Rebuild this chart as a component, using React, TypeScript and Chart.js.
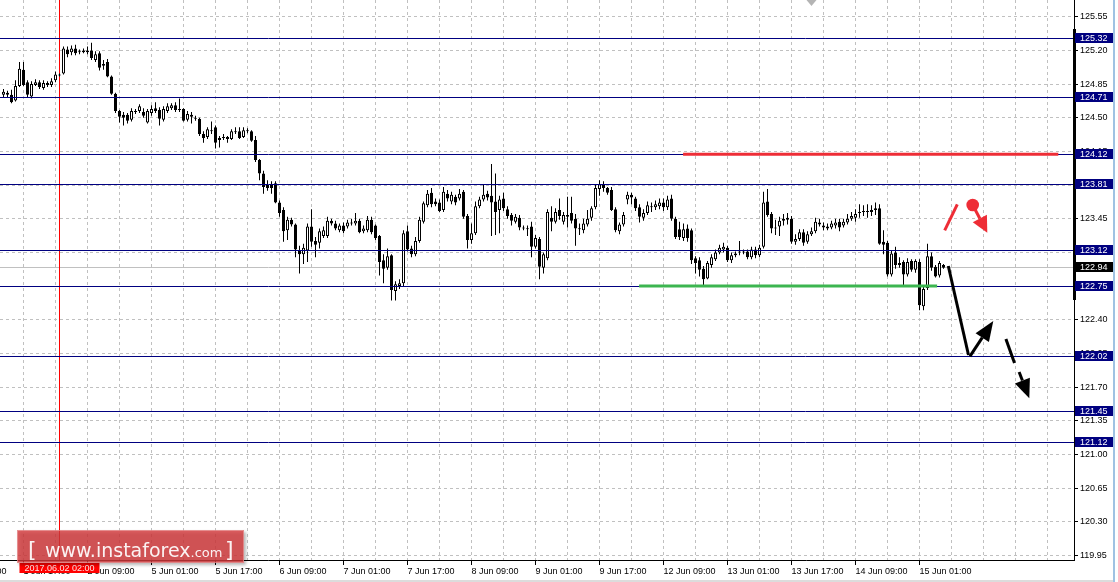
import React, { useEffect, useRef } from 'react';
import { Chart, registerables } from 'chart.js';

Chart.register(...registerables);

// ---- Candle data (H1), index 0 = 1 Jun 12:00 ----
const openP = [
  124.74, 124.76, 124.74, 124.68, 124.83, 125.00, 124.87, 124.72, 124.84, 124.87,
  124.81, 124.86, 124.84, 124.89, 124.95, 124.96, 125.21, 125.18, 125.22, 125.19,
  125.18, 125.20, 125.20, 125.10, 125.17, 125.04, 125.08, 124.93, 124.75, 124.57,
  124.53, 124.53, 124.48, 124.57, 124.57, 124.56, 124.45, 124.55, 124.60, 124.58,
  124.48, 124.57, 124.60, 124.63, 124.59, 124.59, 124.48, 124.53, 124.49, 124.49,
  124.33, 124.30, 124.37, 124.40, 124.27, 124.29, 124.30, 124.28, 124.36, 124.36,
  124.30, 124.37, 124.36, 124.27, 124.06, 123.92, 123.80, 123.81, 123.82, 123.62,
  123.54, 123.33, 123.44, 123.39, 123.12, 123.08, 123.12, 123.37, 123.22, 123.20,
  123.27, 123.27, 123.43, 123.40, 123.33, 123.38, 123.37, 123.40, 123.40, 123.43,
  123.32, 123.33, 123.44, 123.38, 123.27, 123.02, 122.94, 123.07, 122.70, 122.75,
  122.78, 123.32, 123.14, 123.08, 123.22, 123.42, 123.59, 123.72, 123.63, 123.62,
  123.54, 123.71, 123.63, 123.68, 123.66, 123.73, 123.48, 123.23, 123.30, 123.58,
  123.65, 123.71, 123.69, 123.63, 123.54, 123.66, 123.55, 123.49, 123.42, 123.46,
  123.36, 123.35, 123.37, 123.16, 123.24, 122.94, 123.04, 123.46, 123.42, 123.54,
  123.42, 123.49, 123.51, 123.45, 123.35, 123.33, 123.39, 123.46, 123.57, 123.76,
  123.81, 123.77, 123.75, 123.55, 123.32, 123.39, 123.65, 123.70, 123.66, 123.57,
  123.46, 123.51, 123.58, 123.57, 123.58, 123.62, 123.57, 123.66, 123.45, 123.34,
  123.25, 123.35, 123.33, 123.04, 123.02, 122.93, 122.83, 122.97, 123.03, 123.10,
  123.13, 123.15, 123.02, 123.07, 123.10, 123.11, 123.11, 123.05, 123.13, 123.07,
  123.16, 123.63, 123.50, 123.36, 123.37, 123.43, 123.44, 123.45, 123.21, 123.24,
  123.31, 123.21, 123.29, 123.32, 123.41, 123.38, 123.37, 123.36, 123.38, 123.42,
  123.38, 123.41, 123.45, 123.46, 123.51, 123.52, 123.53, 123.54, 123.54, 123.56,
  123.21, 123.20, 122.87, 123.10, 122.97, 123.00, 122.87, 123.01, 122.92, 123.00,
  122.54, 122.73, 123.06, 122.95, 122.86, 122.97,
];
const highP = [
  124.80, 124.78, 124.79, 124.89, 125.08, 125.08, 124.89, 124.88, 124.90, 124.89,
  124.89, 124.88, 124.91, 124.98, 124.96, 125.24, 125.24, 125.25, 125.26, 125.21,
  125.22, 125.24, 125.28, 125.19, 125.19, 125.10, 125.11, 124.94, 124.76, 124.58,
  124.56, 124.55, 124.60, 124.59, 124.64, 124.60, 124.59, 124.63, 124.66, 124.61,
  124.62, 124.65, 124.65, 124.66, 124.70, 124.60, 124.57, 124.56, 124.52, 124.50,
  124.36, 124.40, 124.46, 124.42, 124.31, 124.33, 124.31, 124.38, 124.40, 124.40,
  124.40, 124.39, 124.37, 124.31, 124.07, 123.95, 123.85, 123.84, 123.84, 123.64,
  123.57, 123.47, 123.46, 123.40, 123.17, 123.19, 123.40, 123.55, 123.26, 123.35,
  123.37, 123.47, 123.45, 123.43, 123.40, 123.41, 123.44, 123.45, 123.51, 123.45,
  123.38, 123.48, 123.47, 123.39, 123.28, 123.08, 123.14, 123.08, 122.80, 122.82,
  123.33, 123.38, 123.17, 123.26, 123.47, 123.63, 123.75, 123.77, 123.66, 123.65,
  123.78, 123.75, 123.73, 123.70, 123.76, 123.75, 123.50, 123.40, 123.63, 123.68,
  123.80, 123.74, 124.02, 123.92, 123.69, 123.72, 123.58, 123.51, 123.50, 123.49,
  123.38, 123.38, 123.42, 123.28, 123.26, 123.10, 123.55, 123.58, 123.56, 123.66,
  123.52, 123.68, 123.68, 123.50, 123.40, 123.45, 123.54, 123.58, 123.80, 123.85,
  123.84, 123.78, 123.78, 123.57, 123.41, 123.52, 123.73, 123.72, 123.68, 123.60,
  123.55, 123.63, 123.62, 123.64, 123.66, 123.66, 123.69, 123.70, 123.47, 123.42,
  123.40, 123.39, 123.35, 123.06, 123.05, 122.96, 123.01, 123.08, 123.13, 123.18,
  123.20, 123.17, 123.10, 123.11, 123.22, 123.13, 123.13, 123.16, 123.16, 123.18,
  123.73, 123.76, 123.52, 123.44, 123.47, 123.50, 123.51, 123.48, 123.29, 123.34,
  123.34, 123.32, 123.36, 123.46, 123.45, 123.41, 123.40, 123.43, 123.45, 123.45,
  123.45, 123.50, 123.52, 123.55, 123.60, 123.59, 123.60, 123.59, 123.62, 123.60,
  123.33, 123.22, 123.12, 123.16, 123.05, 123.02, 123.04, 123.03, 123.03, 123.03,
  122.75, 123.19, 123.10, 122.97, 123.01, 122.98,
];
const lowP = [
  124.71, 124.71, 124.65, 124.67, 124.82, 124.83, 124.71, 124.70, 124.83, 124.80,
  124.79, 124.82, 124.82, 124.87, 124.93, 124.95, 125.13, 125.15, 125.15, 125.16,
  125.17, 125.16, 125.10, 125.08, 124.99, 125.00, 124.92, 124.74, 124.55, 124.45,
  124.42, 124.44, 124.46, 124.54, 124.55, 124.50, 124.44, 124.52, 124.55, 124.42,
  124.46, 124.55, 124.58, 124.56, 124.56, 124.46, 124.46, 124.44, 124.47, 124.31,
  124.24, 124.28, 124.33, 124.18, 124.19, 124.27, 124.24, 124.27, 124.33, 124.28,
  124.29, 124.34, 124.25, 124.04, 123.85, 123.71, 123.74, 123.71, 123.61, 123.47,
  123.21, 123.23, 123.37, 123.05, 122.88, 122.98, 123.00, 123.16, 123.05, 123.14,
  123.25, 123.25, 123.38, 123.33, 123.31, 123.30, 123.35, 123.38, 123.38, 123.30,
  123.30, 123.31, 123.29, 123.23, 122.86, 122.78, 122.92, 122.60, 122.60, 122.72,
  122.75, 123.11, 123.05, 123.06, 123.20, 123.40, 123.57, 123.57, 123.58, 123.52,
  123.52, 123.63, 123.60, 123.59, 123.64, 123.45, 123.14, 123.19, 123.28, 123.56,
  123.63, 123.64, 123.27, 123.28, 123.30, 123.53, 123.45, 123.38, 123.40, 123.33,
  123.33, 123.27, 123.05, 123.14, 122.82, 122.88, 123.02, 123.32, 123.40, 123.44,
  123.39, 123.36, 123.40, 123.17, 123.28, 123.30, 123.37, 123.43, 123.55, 123.69,
  123.73, 123.70, 123.53, 123.31, 123.29, 123.37, 123.60, 123.60, 123.53, 123.41,
  123.43, 123.49, 123.52, 123.54, 123.55, 123.53, 123.54, 123.43, 123.24, 123.23,
  123.22, 123.21, 122.98, 122.88, 122.85, 122.76, 122.82, 122.94, 123.01, 123.08,
  123.10, 123.00, 122.99, 123.05, 123.07, 123.08, 123.03, 123.03, 123.04, 123.05,
  123.14, 123.47, 123.30, 123.28, 123.27, 123.38, 123.39, 123.19, 123.18, 123.22,
  123.17, 123.19, 123.27, 123.30, 123.37, 123.33, 123.33, 123.34, 123.35, 123.32,
  123.36, 123.39, 123.43, 123.42, 123.46, 123.48, 123.46, 123.48, 123.49, 123.18,
  123.08, 122.85, 122.85, 122.93, 122.94, 122.75, 122.85, 122.90, 122.89, 122.50,
  122.50, 122.71, 122.91, 122.84, 122.84, 122.93,
];
const closeP = [
  124.77, 124.74, 124.66, 124.83, 125.01, 124.84, 124.74, 124.85, 124.87, 124.82,
  124.86, 124.84, 124.88, 124.95, 124.94, 125.22, 125.16, 125.22, 125.17, 125.18,
  125.20, 125.18, 125.12, 125.16, 125.02, 125.06, 124.93, 124.75, 124.57, 124.51,
  124.50, 124.47, 124.57, 124.56, 124.62, 124.52, 124.57, 124.59, 124.57, 124.49,
  124.59, 124.62, 124.63, 124.58, 124.58, 124.47, 124.54, 124.51, 124.50, 124.33,
  124.29, 124.38, 124.36, 124.24, 124.29, 124.30, 124.28, 124.36, 124.35, 124.29,
  124.37, 124.36, 124.26, 124.06, 123.92, 123.78, 123.77, 123.77, 123.62, 123.51,
  123.32, 123.44, 123.39, 123.13, 123.08, 123.15, 123.37, 123.21, 123.18, 123.32,
  123.33, 123.43, 123.40, 123.35, 123.38, 123.32, 123.41, 123.41, 123.43, 123.31,
  123.35, 123.44, 123.31, 123.25, 123.00, 122.93, 123.06, 122.71, 122.77, 122.78,
  123.30, 123.13, 123.08, 123.22, 123.44, 123.61, 123.71, 123.60, 123.60, 123.53,
  123.73, 123.66, 123.70, 123.62, 123.71, 123.47, 123.23, 123.30, 123.58, 123.65,
  123.70, 123.67, 123.62, 123.52, 123.65, 123.56, 123.48, 123.43, 123.47, 123.36,
  123.35, 123.34, 123.16, 123.25, 122.95, 123.08, 123.52, 123.42, 123.52, 123.48,
  123.49, 123.47, 123.43, 123.35, 123.34, 123.40, 123.45, 123.56, 123.77, 123.81,
  123.77, 123.72, 123.54, 123.33, 123.39, 123.49, 123.70, 123.67, 123.56, 123.47,
  123.51, 123.59, 123.57, 123.60, 123.62, 123.57, 123.65, 123.45, 123.26, 123.26,
  123.34, 123.25, 123.02, 122.99, 122.92, 122.82, 122.99, 123.05, 123.10, 123.15,
  123.16, 123.02, 123.07, 123.09, 123.11, 123.10, 123.05, 123.13, 123.07, 123.15,
  123.62, 123.49, 123.35, 123.35, 123.43, 123.45, 123.46, 123.21, 123.24, 123.31,
  123.20, 123.29, 123.32, 123.42, 123.39, 123.36, 123.35, 123.40, 123.41, 123.36,
  123.42, 123.45, 123.48, 123.50, 123.52, 123.53, 123.52, 123.52, 123.56, 123.19,
  123.18, 122.87, 123.09, 122.97, 122.99, 122.87, 123.00, 122.92, 123.01, 122.55,
  122.72, 123.06, 122.94, 122.85, 122.99, 122.94,
];

// ---- Levels & axis text ----
const priceLevels = [125.32, 124.71, 124.12, 123.81, 123.12, 122.75, 122.02, 121.45, 121.12];
const currentPrice = 122.94;
const yTickValues = [119.95, 120.30, 120.65, 121.00, 121.35, 121.70, 122.05, 122.40, 122.75, 123.10, 123.45, 123.80, 124.15, 124.50, 124.85, 125.20, 125.55];
const xGridIdx = [-11, 5, 13, 21, 29, 37, 45, 53, 61, 69, 77, 85, 93, 101, 109, 117, 125, 133, 141, 149, 157, 165, 173, 181, 189, 197, 205, 213, 221, 229, 237, 245, 253, 261];
const xLabelIdx = [-11, 5, 21, 37, 53, 69, 85, 101, 117, 133, 149, 165, 181, 197, 213, 229];
const xLabelText = ['1 Jun 01:00', '1 Jun 17:00', '2 Jun 09:00', '5 Jun 01:00', '5 Jun 17:00', '6 Jun 09:00', '7 Jun 01:00', '7 Jun 17:00', '8 Jun 09:00', '9 Jun 01:00', '9 Jun 17:00', '12 Jun 09:00', '13 Jun 01:00', '13 Jun 17:00', '14 Jun 09:00', '15 Jun 01:00'];
const crosshairIdx = 14;
const crosshairText = '2017.06.02 02:00';
const axisRange = [122.61, 125.42];
const xRange = [-0.875, 267.625];
const yRange = [119.903, 125.724];

// ---- Drawn objects (index, price) ----
const resistanceSeg = [[169.9, 124.12], [263.7, 124.12]];
const supportSeg = [[158.9, 122.75], [233.4, 122.75]];
const redSlash = [[235.3, 123.33], [238.45, 123.60]];
const redDot = [242.3, 123.593];
const redArrowTip = [245.95, 123.305];
const blackPath = [[236.2, 122.959], [241.25, 122.034]];
const blackUpArrow = [[241.6, 122.02], [247.45, 122.387]];
const dashArrowSeg1 = [[250.6, 122.20], [252.75, 121.951]];
const dashArrowSeg2 = [[253.9, 121.857], [256.45, 121.584]];
const topMarker = [202, 125.724];

const FONT = '"Liberation Sans", Arial, sans-serif';

function drawArrow(ctx: CanvasRenderingContext2D, x1: number, y1: number, x2: number, y2: number, headLen: number, headW: number) {
  const ang = Math.atan2(y2 - y1, x2 - x1);
  const bx = x2 - headLen * Math.cos(ang);
  const by = y2 - headLen * Math.sin(ang);
  ctx.beginPath();
  ctx.moveTo(x1, y1);
  ctx.lineTo(bx, by);
  ctx.stroke();
  ctx.beginPath();
  ctx.moveTo(x2, y2);
  ctx.lineTo(bx + headW * Math.sin(ang), by - headW * Math.cos(ang));
  ctx.lineTo(bx - headW * Math.sin(ang), by + headW * Math.cos(ang));
  ctx.closePath();
  ctx.fill();
}

const overlayPlugin = {
  id: 'mtOverlay',
  beforeDatasetsDraw(chart: any) {
    const { ctx, chartArea: ca, scales } = chart;
    const x = scales.x, y = scales.y;
    ctx.save();
    const py = Math.floor(y.getPixelForValue(currentPrice)) + 0.5;
    ctx.strokeStyle = '#c0c0c0';
    ctx.lineWidth = 1;
    ctx.beginPath(); ctx.moveTo(ca.left, py); ctx.lineTo(ca.right, py); ctx.stroke();
    const cx = Math.floor(x.getPixelForValue(crosshairIdx)) + 0.5;
    ctx.strokeStyle = '#ff0000';
    ctx.beginPath(); ctx.moveTo(cx, ca.top); ctx.lineTo(cx, ca.bottom); ctx.stroke();
    ctx.restore();
  },
  afterDatasetsDraw(chart: any) {
    const { ctx, chartArea: ca, scales } = chart;
    const x = scales.x, y = scales.y;
    const P = (p: number[]) => [x.getPixelForValue(p[0]), y.getPixelForValue(p[1])];
    ctx.save();
    ctx.beginPath(); ctx.rect(ca.left, ca.top, ca.right - ca.left, ca.bottom - ca.top); ctx.clip();
    ctx.strokeStyle = '#000080';
    ctx.lineWidth = 1;
    priceLevels.forEach((lv) => {
      const py = Math.floor(y.getPixelForValue(lv)) + 0.5;
      ctx.beginPath(); ctx.moveTo(ca.left, py); ctx.lineTo(ca.right, py); ctx.stroke();
    });
    ctx.lineWidth = 3;
    ctx.lineCap = 'butt';
    let a = P(resistanceSeg[0]), b = P(resistanceSeg[1]);
    ctx.strokeStyle = '#ee2d36';
    ctx.beginPath(); ctx.moveTo(a[0], a[1]); ctx.lineTo(b[0], b[1]); ctx.stroke();
    a = P(supportSeg[0]); b = P(supportSeg[1]);
    ctx.strokeStyle = '#3cb550';
    ctx.beginPath(); ctx.moveTo(a[0], a[1]); ctx.lineTo(b[0], b[1]); ctx.stroke();
    ctx.strokeStyle = '#ee2d36';
    ctx.fillStyle = '#ee2d36';
    ctx.lineWidth = 3;
    a = P(redSlash[0]); b = P(redSlash[1]);
    ctx.beginPath(); ctx.moveTo(a[0], a[1]); ctx.lineTo(b[0], b[1]); ctx.stroke();
    const d = P(redDot);
    const t = P(redArrowTip);
    drawArrow(ctx, d[0], d[1], t[0], t[1], 16, 8);
    ctx.beginPath(); ctx.arc(d[0], d[1], 6.3, 0, Math.PI * 2); ctx.fill();
    ctx.strokeStyle = '#000';
    ctx.fillStyle = '#000';
    ctx.lineWidth = 3;
    a = P(blackPath[0]); b = P(blackPath[1]);
    ctx.beginPath(); ctx.moveTo(a[0], a[1]); ctx.lineTo(b[0], b[1]); ctx.stroke();
    a = P(blackUpArrow[0]); b = P(blackUpArrow[1]);
    drawArrow(ctx, a[0], a[1], b[0], b[1], 20, 8);
    a = P(dashArrowSeg1[0]); b = P(dashArrowSeg1[1]);
    ctx.beginPath(); ctx.moveTo(a[0], a[1]); ctx.lineTo(b[0], b[1]); ctx.stroke();
    a = P(dashArrowSeg2[0]); b = P(dashArrowSeg2[1]);
    drawArrow(ctx, a[0], a[1], b[0], b[1], 19, 8);
    const m = P(topMarker);
    ctx.fillStyle = '#b4b4b4';
    ctx.beginPath(); ctx.moveTo(m[0] - 5, m[1]); ctx.lineTo(m[0] + 5, m[1]); ctx.lineTo(m[0], m[1] + 6); ctx.closePath(); ctx.fill();
    ctx.restore();
  },
  afterDraw(chart: any) {
    const { ctx, chartArea: ca, scales } = chart;
    const x = scales.x, y = scales.y;
    ctx.save();
    const yTop = Math.round(y.getPixelForValue(axisRange[1]));
    const yBot = Math.round(y.getPixelForValue(axisRange[0]));
    ctx.fillStyle = '#000';
    ctx.fillRect(ca.right - 1, yTop, 3, yBot - yTop);
    ctx.font = `9px ${FONT}`;
    ctx.textBaseline = 'middle';
    ctx.textAlign = 'left';
    const box = (val: number, bg: string) => {
      const py = Math.floor(y.getPixelForValue(val));
      ctx.fillStyle = bg;
      ctx.fillRect(ca.right + 1, py - 5, 38, 10);
      ctx.fillStyle = '#ffffff';
      ctx.fillText(val.toFixed(2), ca.right + 6, py + 0.5);
    };
    priceLevels.forEach((lv) => box(lv, '#000080'));
    box(currentPrice, '#000000');
    const cx = Math.floor(x.getPixelForValue(crosshairIdx)) + 0.5;
    ctx.fillStyle = '#ff0000';
    ctx.fillRect(cx - 40, ca.bottom + 3, 80, 10);
    ctx.fillStyle = '#ffe6e6';
    ctx.textAlign = 'center';
    ctx.fillText(crosshairText, cx, ca.bottom + 8.5);
    ctx.save();
    ctx.shadowColor = 'rgba(0,0,0,0.35)';
    ctx.shadowBlur = 3;
    ctx.shadowOffsetX = 2;
    ctx.shadowOffsetY = 2;
    ctx.fillStyle = 'rgba(212,56,59,0.8)';
    ctx.fillRect(17, 530, 227, 33);
    ctx.restore();
    ctx.strokeStyle = 'rgba(255,255,255,0.3)';
    ctx.lineWidth = 1;
    ctx.strokeRect(17.5, 530.5, 226, 32);
    ctx.fillStyle = 'rgba(255,255,255,0.93)';
    ctx.textAlign = 'left';
    ctx.textBaseline = 'alphabetic';
    ctx.font = '22px "DejaVu Sans", sans-serif';
    ctx.fillText('[', 28, 557);
    ctx.fillText(']', 225, 557);
    ctx.font = '19px "DejaVu Sans", sans-serif';
    ctx.fillText('www.instaforex', 45, 556.5);
    const w = ctx.measureText('www.instaforex').width;
    ctx.font = '13px "DejaVu Sans", sans-serif';
    ctx.fillText('.com', 45 + w, 556.5);
    ctx.fillStyle = '#9fc2e3';
    ctx.fillRect(1113, 0, 2, 582);
    ctx.fillStyle = '#dcdcdc';
    ctx.fillRect(0, 580, 1113, 2);
    ctx.restore();
  },
};

export default function App() {
  const ref = useRef<HTMLCanvasElement | null>(null);
  useEffect(() => {
    document.body.style.margin = '0';
    const canvas = ref.current;
    if (!canvas) return;
    const wickData = highP.map((h, i) => ({ x: i, y: [lowP[i], h] }));
    const bodyData = openP.map((o, i) => ({ x: i, y: [o, closeP[i]] }));
    const bodyFill = openP.map((o, i) => (closeP[i] >= o ? '#ffffff' : '#000000'));
    const chart = new Chart(canvas, {
      type: 'bar',
      data: {
        datasets: [
          {
            label: 'body',
            data: bodyData as any,
            backgroundColor: bodyFill,
            borderColor: '#000000',
            borderWidth: 1,
            borderSkipped: false,
            barThickness: 3,
            grouped: false,
            order: 1,
            minBarLength: 1,
            inflateAmount: 0,
          } as any,
          {
            label: 'wick',
            data: wickData as any,
            backgroundColor: '#000000',
            borderWidth: 0,
            barThickness: 1,
            grouped: false,
            order: 2,
            inflateAmount: 0,
          } as any,
        ],
      },
      options: {
        animation: false,
        responsive: false,
        maintainAspectRatio: false,
        devicePixelRatio: 1,
        layout: { padding: 0 },
        events: [],
        plugins: { legend: { display: false }, tooltip: { enabled: false } },
        scales: {
          x: {
            type: 'linear',
            min: xRange[0],
            max: xRange[1],
            offset: false,
            bounds: 'data',
            afterBuildTicks: (s: any) => { s.ticks = xGridIdx.map((v) => ({ value: v })); },
            afterFit: (s: any) => { s.height = 22; s.paddingLeft = 0; s.paddingRight = 0; },
            ticks: {
              autoSkip: false,
              maxRotation: 0,
              minRotation: 0,
              align: 'start',
              padding: 1,
              color: '#000000',
              font: { family: FONT, size: 9 },
              callback: (v: any) => {
                const k = xLabelIdx.indexOf(Number(v));
                return k >= 0 ? xLabelText[k] : '';
              },
            },
            grid: {
              offset: false,
              color: '#c0c0c0',
              lineWidth: 1,
              tickLength: 5,
              tickColor: (c: any) => (c.tick && xLabelIdx.includes(c.tick.value) ? '#000000' : 'rgba(0,0,0,0)'),
            },
            border: { display: true, color: '#000000', width: 1, dash: [3, 3] },
          } as any,
          y: {
            type: 'linear',
            position: 'right',
            min: yRange[0],
            max: yRange[1],
            beginAtZero: false,
            bounds: 'data',
            afterBuildTicks: (s: any) => { s.ticks = yTickValues.map((v) => ({ value: v })); },
            afterFit: (s: any) => { s.width = 44; s.paddingTop = 0; s.paddingBottom = 0; },
            ticks: {
              autoSkip: false,
              padding: 2,
              color: '#000000',
              font: { family: FONT, size: 9 },
              callback: (v: any) => Number(v).toFixed(2),
            },
            grid: { color: '#c0c0c0', lineWidth: 1, tickLength: 4, tickColor: '#000000' },
            border: { display: true, color: '#000000', width: 1, dash: [3, 3] },
          } as any,
        },
      },
      plugins: [overlayPlugin as any],
    });
    return () => chart.destroy();
  }, []);
  return (
    <div style={{ position: 'fixed', left: 0, top: 0, width: 1118, height: 582, background: '#ffffff' }}>
      <canvas ref={ref} width={1118} height={582} style={{ display: 'block', width: 1118, height: 582 }} />
    </div>
  );
}
